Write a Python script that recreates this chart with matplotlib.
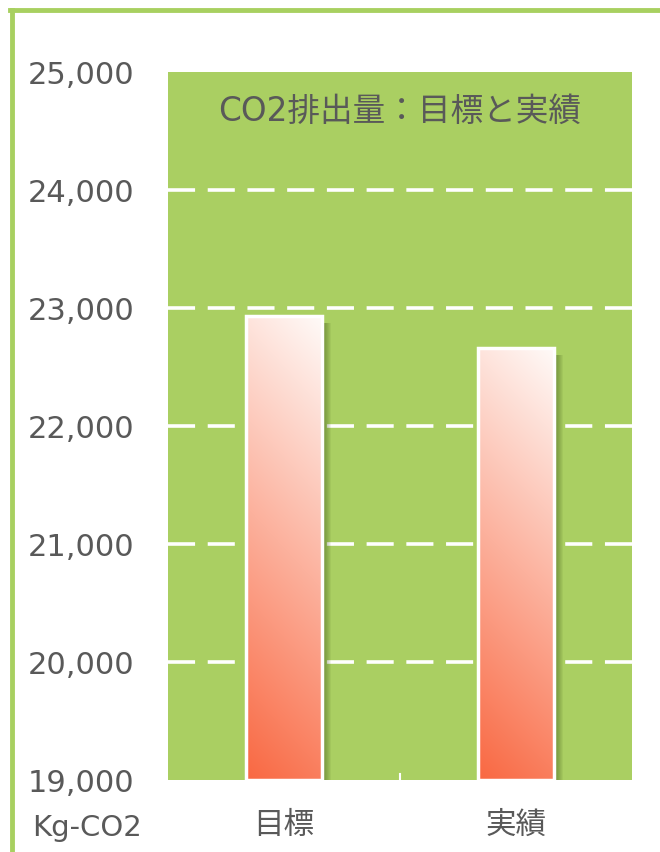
import numpy as np
import matplotlib.pyplot as plt
from matplotlib.patches import Rectangle
from matplotlib.lines import Line2D

plt.rcParams['font.family'] = ['DejaVu Sans', 'Noto Sans CJK JP']

categories = ['目標', '実績']
values = [22930, 22660]
yticks = [19000, 20000, 21000, 22000, 23000, 24000, 25000]
title = 'CO2排出量：目標と実績'
unit = 'Kg-CO2'

green = '#aacf62'
grey = '#595959'

fig = plt.figure(figsize=(6.6, 8.52), dpi=100)
ax = fig.add_axes([168 / 660, 1 - 780 / 852, 464 / 660, 708 / 852])
ax.set_facecolor(green)
ax.set_xlim(-0.5, 1.5)
ax.set_ylim(19000, 25000)

for s in ax.spines.values():
    s.set_visible(False)

for y in yticks[1:-1]:
    ax.axhline(y, color='white', lw=2.6, dashes=(7.5, 3.5), zorder=1)

# gradient image for bars (bottom orange-red, top near white, slight diagonal)
h, w = 200, 40
yy, xx = np.mgrid[0:1:h * 1j, 0:1:w * 1j]
t = np.clip(yy * 0.85 + xx * 0.15, 0, 1)
bottom = np.array([249, 104, 66]) / 255
top = np.array([255, 250, 248]) / 255
grad = bottom + (top - bottom) * t[..., None]

width = 0.33
for i, v in enumerate(values):
    x0 = i - width / 2
    # soft shadow on the right
    for k in range(9):
        off = 0.004 + k * 0.004
        ax.add_patch(Rectangle((x0 + off, 19000), width, v - 19000 - 60,
                               color='#3a5418', alpha=0.07, lw=0, zorder=2))
    im = ax.imshow(grad, extent=(x0, x0 + width, 19000, v), origin='lower',
                   aspect='auto', zorder=3, interpolation='bilinear')
    r = Rectangle((x0, 19000), width, v - 19000, fill=False,
                  ec='white', lw=2.5, zorder=4)
    ax.add_patch(r)
    im.set_clip_path(r)

ax.set_xlim(-0.5, 1.5)
ax.set_ylim(19000, 25000)

ax.set_yticks(yticks)
ax.set_yticklabels([f'{y:,}' for y in yticks])
ax.tick_params(axis='y', length=0, pad=24, labelsize=22, labelcolor=grey)
ax.set_xticks([0, 1])
ax.set_xticklabels(categories, fontsize=22, color=grey)
ax.tick_params(axis='x', length=0, pad=22)

# small middle tick
ax.plot([0.5, 0.5], [19000, 19050], color='white', lw=1.5, zorder=5,
        clip_on=False)

ax.text(0.5, 0.945, title, transform=ax.transAxes, ha='center', va='center',
        fontsize=23.5, color=grey)

fig.text(87 / 660, 1 - 828 / 852, unit, ha='center', va='center',
         fontsize=21, color=grey)

# green frame lines
fig.add_artist(Line2D([12 / 660, 12 / 660], [0, 1 - 10 / 852],
                      color='#a8d060', lw=3.5, transform=fig.transFigure))
fig.add_artist(Line2D([10.3 / 660, 1], [1 - 10 / 852, 1 - 10 / 852],
                      color='#a8d060', lw=3.5, transform=fig.transFigure))

fig.savefig('out.png', dpi=100)
